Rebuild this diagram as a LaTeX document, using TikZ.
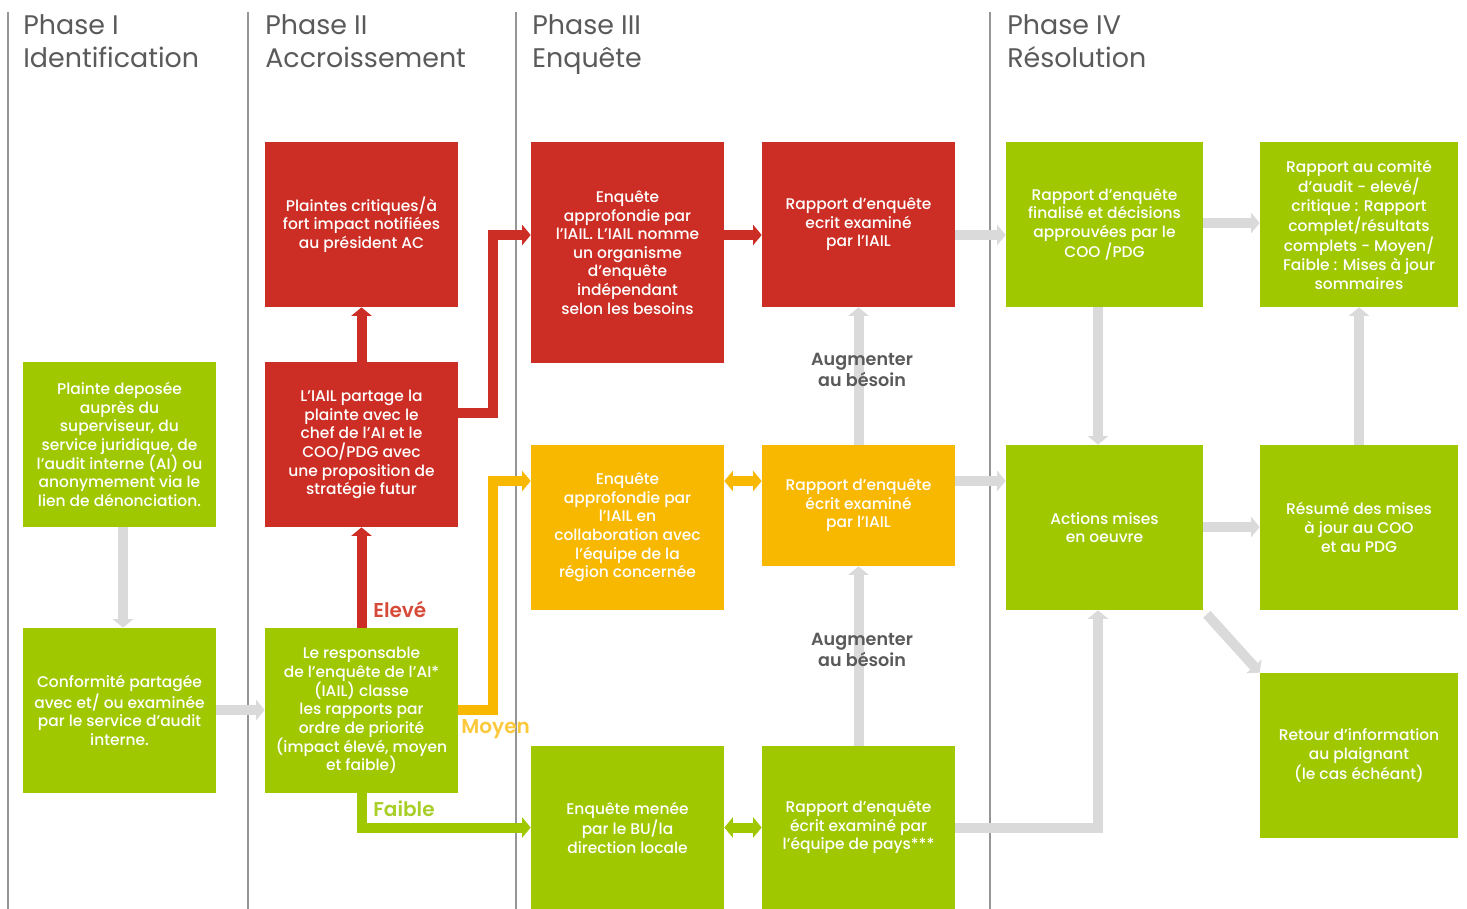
\documentclass[tikz,border=0pt]{standalone}
\usepackage{fontspec}
\setmainfont{Poppins Medium}[BoldFont={Poppins SemiBold}]
\newfontfamily\headfont{Poppins}
\usetikzlibrary{arrows.meta}

\definecolor{boxred}{RGB}{204,46,37}
\definecolor{boxyel}{RGB}{249,184,0}
\definecolor{boxgrn}{RGB}{160,200,0}
\definecolor{arrgray}{RGB}{218,218,218}
\definecolor{rulegray}{RGB}{150,150,150}
\definecolor{headgray}{RGB}{90,90,90}
\definecolor{lblred}{RGB}{214,74,58}
\definecolor{lblyel}{RGB}{252,200,60}
\definecolor{lblgrn}{RGB}{168,206,40}

\begin{document}
\begin{tikzpicture}[x=0.02cm, y=-0.02cm,
    box/.style={text=white, minimum width=3.86cm, minimum height=3.3cm, inner sep=0pt,
      align=center, font=\fontsize{8.8}{10.6}\selectfont},
    redbox/.style={box, fill=boxred},
    yelbox/.style={box, fill=boxyel},
    grnbox/.style={box, fill=boxgrn},
    head/.style={text=headgray, align=left, inner sep=0pt, anchor=north west,
      font=\headfont\fontsize{15.3}{18.7}\selectfont},
    lbl/.style={inner sep=0pt, anchor=west, font=\bfseries\fontsize{11.4}{12}\selectfont},
    aug/.style={text=headgray, align=center, inner sep=0pt,
      font=\bfseries\fontsize{10}{11.5}\selectfont},
    flow/.style={line width=0.2cm, -{Triangle[width=0.4cm,length=0.17cm]}},
    twoway/.style={line width=0.2cm, {Triangle[width=0.4cm,length=0.17cm]}-{Triangle[width=0.4cm,length=0.17cm]}},
    redflow/.style={flow, draw=boxred},
    yelflow/.style={flow, draw=boxyel},
    grnflow/.style={flow, draw=boxgrn},
    grayflow/.style={flow, draw=arrgray}]
    %%%%% START %%%%%
    \useasboundingbox (0,0) rectangle (1467,909);

    % phase rules and titles
    \draw[rulegray, line width=0.6pt] (8,12) -- (8,909);
    \draw[rulegray, line width=0.6pt] (248,12) -- (248,909);
    \draw[rulegray, line width=0.6pt] (516,12) -- (516,909);
    \draw[rulegray, line width=0.6pt] (990,12) -- (990,909);

    \node[head] (hI) at (23,14) {Phase I\\Identification};
    \node[head] (hII) at (265,14) {Phase II\\Accroissement};
    \node[head] (hIII) at (532,14) {Phase III\\Enquête};
    \node[head] (hIV) at (1007,14) {Phase IV\\Résolution};

    % Phase I
    \node[grnbox] (plainte) at (119.5,444.5) {Plainte deposée\\auprès du\\superviseur, du\\service juridique, de\\l’audit interne (AI) ou\\anonymement via le\\lien de dénonciation.};
    \node[grnbox] (conformite) at (119.5,710.5) {Conformité partagée\\avec et/ ou examinée\\par le service d’audit\\interne.};

    % Phase II
    \node[redbox] (critiques) at (361.5,224.5) {Plaintes critiques/à\\fort impact notifiées\\au président AC};
    \node[redbox] (partage) at (361.5,444.5) {L’IAIL partage la\\plainte avec le\\chef de l’AI et le\\COO/PDG avec\\une proposition de\\stratégie futur};
    \node[grnbox] (responsable) at (361.5,710.5) {Le responsable\\de l’enquête de l’AI*\\(IAIL) classe\\les rapports par\\ordre de priorité\\(impact élevé, moyen\\et faible)};

    % Phase III
    \node[redbox, minimum height=4.42cm] (enqred) at (627.5,252.5) {Enquête\\approfondie par\\l’IAIL. L’IAIL nomme\\un organisme\\d’enquête\\indépendant\\selon les besoins};
    \node[redbox] (rapred) at (858.5,224.5) {Rapport d’enquête\\ecrit examiné\\par l’IAIL};
    \node[yelbox] (enqyel) at (627.5,527.5) {Enquête\\approfondie par\\l’IAIL en\\collaboration avec\\l’équipe de la\\région concernée};
    \node[yelbox, minimum height=2.42cm] (rapyel) at (858.5,505.5) {Rapport d’enquête\\écrit examiné\\par l’IAIL};
    \node[grnbox, minimum height=3.26cm] (enqgrn) at (627.5,827.5) {Enquête menée\\par le BU/la\\direction locale};
    \node[grnbox, minimum height=3.26cm] (rapgrn) at (858.5,827.5) {Rapport d’enquête\\écrit examiné par\\l’équipe de pays***};

    % Phase IV
    \node[grnbox, minimum width=3.94cm] (finalise) at (1104.5,224.5) {Rapport d’enquête\\finalisé et décisions\\approuvées par le\\COO /PDG};
    \node[grnbox, minimum width=3.96cm] (comite) at (1359,224.5) {Rapport au comité\\d’audit - elevé/\\critique : Rapport\\complet/résultats\\complets - Moyen/\\Faible : Mises à jour\\sommaires};
    \node[grnbox, minimum width=3.94cm] (actions) at (1104.5,527.5) {Actions mises\\en oeuvre};
    \node[grnbox, minimum width=3.96cm] (resume) at (1359,527.5) {Résumé des mises\\à jour au COO\\et au PDG};
    \node[grnbox, minimum width=3.96cm] (retour) at (1359,755.5) {Retour d’information\\au plaignant\\(le cas échéant)};

    % coloured flows
    \draw[redflow] (responsable.north) -- (partage.south);
    \draw[redflow] (partage.north) -- (critiques.south);
    \draw[redflow] (partage.east |- 0,413) -| (493,235) -- (enqred.west |- 0,235);
    \draw[redflow] (enqred.east |- 0,235) -- (rapred.west |- 0,235);
    \draw[yelflow] (responsable.east |- 0,710) -| (493,481) -- (enqyel.west |- 0,481);
    \draw[twoway, draw=boxyel] (enqyel.east |- 0,481) -- (rapyel.west |- 0,481);
    \draw[grnflow] (responsable.south) |- (enqgrn.west);
    \draw[twoway, draw=boxgrn] (enqgrn.east) -- (rapgrn.west);

    % gray flows
    \draw[grayflow] (plainte.south -| 123,0) -- (conformite.north -| 123,0);
    \draw[grayflow] (conformite.east |- 0,710) -- (responsable.west |- 0,710);
    \draw[grayflow] (rapyel.north) -- (rapred.south);
    \draw[grayflow] (rapgrn.north) -- (rapyel.south);
    \draw[grayflow] (rapred.east |- 0,235) -- (finalise.west |- 0,235);
    \draw[grayflow] (rapyel.east |- 0,481) -- (actions.west |- 0,481);
    \draw[grayflow] (rapgrn.east) -| (actions.south -| 1098,0);
    \draw[grayflow] (finalise.south -| 1098,0) -- (actions.north -| 1098,0);
    \draw[grayflow] (finalise.east |- 0,223) -- (comite.west |- 0,223);
    \draw[grayflow] (actions.east |- 0,527) -- (resume.west |- 0,527);
    \draw[grayflow] (resume.north) -- (comite.south);
    \draw[grayflow, shorten <=3pt] (actions.south east) -- (retour.north west);

    % labels
    \node[lbl, text=lblred] (eleve) at (373,609) {Elevé};
    \node[lbl, text=lblyel] (moyen) at (461,729) {Moyen};
    \node[lbl, text=lblgrn] (faible) at (373,809) {Faible};
    \node[aug] (augA) at (862,370) {Augmenter\\au bésoin};
    \node[aug] (augB) at (862,650) {Augmenter\\au bésoin};
    %%%%% END %%%%%
\end{tikzpicture}
\end{document}
